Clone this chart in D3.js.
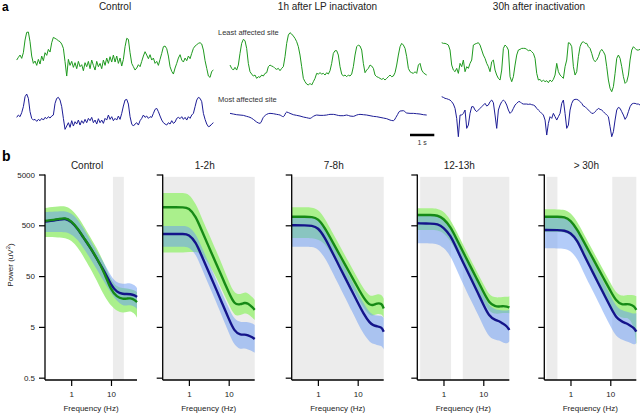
<!DOCTYPE html>
<html><head><meta charset="utf-8">
<script src="https://cdn.jsdelivr.net/npm/d3@7"></script>
<style>body{margin:0;background:#fff}svg{display:block;font-family:"Liberation Sans",Arial,Helvetica,sans-serif}</style>
</head><body>
<svg id="c" width="640" height="413"></svg>
<script>
// ---------------- DATA: panel a (traces, amplitude a.u., uniform sampling) ----------------
const traceTitles = ["Control", "1h after LP inactivaton", "30h after inactivation"];
const siteLabels = ["Least affected site", "Most affected site"];
const fineStepMs = 68.6, coarseStepMs = 137.2;
const ctrlLeast = [20,28,35,25,42,80,103,104,75,32,10,17,4,22,8,32,18,42,34,52,44,72,88,85,82,78,75,68,55,15,-28,22,4,16,-2,12,-6,16,0,6,-12,12,0,16,-6,20,4,-10,16,0,10,-6,20,4,26,10,30,14,35,14,32,10,26,2,22,60,85,82,42,10,0,-10,-4,6,0,16,32,45,35,24,36,20,26,10,16,4,22,40,60,62,54,32,0,-14,-22,-4,10,26,36,20,14,26,18,32,24,40,55,62,66,70,72,68,50,18,-5,-28,-32,-14,-10];
const ctrlMost = [-2,5,0,12,30,60,68,55,15,-5,-10,-8,-14,-8,-12,-5,-10,-2,-6,0,-4,2,5,40,55,58,50,30,-5,-38,-28,-18,-32,-12,-28,-15,-22,-10,-25,-12,-20,-8,-18,-5,-12,-2,-18,-10,-22,-6,-18,-10,-20,-5,-10,5,-8,0,-12,-5,-10,2,-8,10,32,50,52,38,0,-22,-28,-22,-18,-25,-12,-5,5,-2,2,-5,0,-2,10,22,25,15,2,-10,-18,-22,-25,-18,-22,-12,-20,-16,-5,-2,-6,0,-8,-2,-10,0,-5,5,10,30,50,58,55,45,10,-8,-22,-30,-28,-22,-18];
const h1Least = [5,-5,-10,-2,-10,5,40,70,82,78,55,10,-15,-22,-28,-25,-35,-30,-32,-25,-28,-20,-18,0,5,2,0,-5,-8,-5,-12,-5,0,30,70,95,102,98,92,85,75,60,35,0,-35,-45,-52,-55,-50,-55,-45,-35,-20,-22,-18,-22,-20,-25,-18,-22,-12,10,40,48,48,35,0,-22,-28,-25,-30,-25,-28,-22,0,35,60,65,62,50,10,-18,-10,-5,5,2,-5,-25,-30,-32,-35,-38,-35,-40,-35,-30,-25,-30,-28,-18,5,35,60,70,65,55,30,-5,-15,-18,-20,-15,-20,5,10,-10,-18,-22,-25];
const h1Most = [10,8,6,5,4,1,-2,-8,-16,-20,-2,7,10,9,7,5,0,14,10,6,4,2,-1,-3,-5,1,5,4,4,5,7,7,5,3,3,5,2,1,5,7,6,5,3,1,0,-2,-4,-6,-10,-12,2,17,18,11,10,10,9,8,6,5];
const h30Least = [72,70,70,68,65,50,5,-10,-15,-5,-20,10,0,20,-15,0,-5,10,20,65,68,70,72,65,50,35,25,10,0,-15,15,20,-10,-25,-35,-40,-10,55,65,60,50,-30,-45,-30,5,35,50,52,55,55,55,52,48,50,45,40,25,-20,-40,-38,-45,-40,-45,-42,-48,-40,-45,-38,-25,10,-15,-25,-30,-35,0,20,72,70,60,0,-25,-15,30,60,72,75,70,70,60,55,40,22,15,20,30,45,52,45,35,0,-40,-65,-75,-60,-20,25,35,25,0,-30,-50,-45,-25,20,50,60,55,50,50,52];
const h30Most = [60,58,55,54,52,50,45,38,25,-5,-60,5,5,10,20,-35,-25,10,30,30,20,15,20,25,30,35,40,32,35,45,50,42,5,-35,20,35,45,50,45,35,20,10,15,25,35,40,45,45,40,38,38,38,37,38,36,35,32,25,20,15,10,5,-10,-55,-20,0,-5,10,0,-10,0,10,40,50,10,-35,-25,20,40,50,52,52,50,45,40,32,30,25,20,15,10,10,15,20,25,22,20,15,10,5,0,-30,-60,-45,-10,20,28,25,15,5,-8,0,15,30,38,40,40,38,38,35];

// ---------------- DATA: panel b (power spectra, uV^2) ----------------
const panelTitles = ["Control", "1-2h", "7-8h", "12-13h", "> 30h"];
const freqs = [0.22,0.5,0.7,1,1.5,2,3,5,7,10,14,20,25,30,40,45];
const yTickValues = [0.5,5,50,500,5000];
const yTickLabels = ["0.5","5","50","500","5000"];
const xTickValues = [1,10];
const xTickLabels = ["1","10"];

const ctrlGreenMean = [607,665,706,615,423,294,187,94.6,55,26.6,19.4,17.7,18,18.5,17,15.4];
const ctrlGreenHi   = [1100,1180,1200,1050,728,507,294,149,82.7,41.9,30.5,29,28.5,27.7,26,24];
const ctrlGreenLo   = [294,290,281,257,179,124,72,33.4,19.4,12.9,10.3,9.4,9.8,10.3,9,7.6];
const ctrlBlueMean  = [590,645,685,600,415,290,185,92,60,33.4,24,22.2,22.2,22.2,21,19.4];
const ctrlBlueHi    = [914,940,950,873,636,446,257,130,86,48.9,36.6,35,36,36.6,33,29];
const ctrlBlueLo    = [369,369,369,336,257,179,113,57.6,36.6,23,16.2,12.9,13.2,13.5,12.5,11.3];

const h12GreenMean = [1130,1130,1130,1120,738,429,208,83,45.5,24,13.5,13.9,15,14.7,12,10.8];
const h12GreenHi   = [2150,2170,2170,2100,1330,770,370,150,80,40,22,22,24,23.5,19,17];
const h12GreenLo   = [145,145,145,150,150,140,95,45,25,14,8,8.5,9.3,9.2,7.5,6.8];
const h12BlueMean  = [337,337,337,335,230,136,66,26,14,7.3,4.0,3.46,3.55,3.46,3.1,2.88];
const h12BlueHi    = [484,484,484,480,340,200,100,40,22,12,6.8,6.2,6.3,6.2,5.8,5.45];
const h12BlueLo    = [190,190,190,190,135,78,37,14.5,7.6,3.9,2.1,1.8,1.9,1.8,1.65,1.55];

const h78GreenMean = [738,738,730,687,443,294,165,79.8,49.8,30,18.7,13.2,13.5,14.5,14.7,11.5];
const h78GreenHi   = [1130,1130,1120,1050,680,450,250,120,75,45,28,20,20.5,22,22,18];
const h78GreenLo   = [281,281,280,265,220,150,103,50,31,19,11.7,8.3,8.4,9,9,7.5];
const h78BlueMean  = [500,500,490,457,285,183,97,44,26.3,15.2,9.06,5.97,5.33,5.14,4.98,4.02];
const h78BlueHi    = [720,720,710,670,430,280,150,70,42,24,14.5,9.5,8.6,8.3,8.3,7.5];
const h78BlueLo    = [190,190,188,175,115,75,40,18,10.5,6,3.6,2.5,2.3,2.2,2.15,1.8];

const h1213GreenMean = [798,798,785,687,462,297,158,71.6,42.9,24.7,14.8,12.6,12.5,12.9,12.6,12];
const h1213GreenHi   = [1080,1080,1060,960,640,420,220,100,60,35,21,19,19,19.5,19.5,20];
const h1213GreenLo   = [404,404,400,360,250,165,92,44,27,16,9.8,9,9.2,9.5,9.3,9.3];
const h1213BlueMean  = [547,540,531,457,313,195,97.7,43.3,25,13.9,8.05,6.84,6.5,5.9,5.1,4.34];
const h1213BlueHi    = [790,780,760,670,450,290,150,68,40,22,13,11,10.8,10.5,10.5,10.8];
const h1213BlueLo    = [221,220,215,185,125,75,37,16,9.5,5.2,3.1,2.8,2.7,2.5,2.3,2.6];

const h30GreenMean = [738,738,730,636,404,266,148,70.5,43.4,26,16,13.5,14.1,14,12.9,10.8];
const h30GreenHi   = [1030,1030,1020,900,580,380,210,100,62,37,23,20,21,21.5,21,20];
const h30GreenLo   = [370,370,365,330,220,145,78,36,22,13,8.5,7.5,7.5,7.3,5,2.2];
const h30BlueMean  = [404,404,395,361,250,150,80,36.2,21.6,12.5,7.5,6.3,5.9,5.45,4.76,4.02];
const h30BlueHi    = [700,700,690,620,420,260,135,62,37,21,12.5,10.5,10,9.7,9,9.3];
const h30BlueLo    = [176,176,172,160,110,65,34,15.5,9,5.2,3.2,2.8,2.6,2.5,2.2,2.4];

// shaded (grey) frequency ranges per panel, Hz
const shadeCtrl = [[11.2,21]];
const shade12 = [[0.22,45]];
const shade78 = [[0.22,45]];
const shade1213 = [[0.26,1.55],[3.05,45]];
const shade30 = [[0.25,0.47],[11.2,45]];

// ---------------- DRAWING ----------------
const svg = d3.select("#c");
const C = {
  greenTrace:"#1f9a1f", blueTrace:"#1d1d96",
  greenLine:"#168a16", blueLine:"#14148a",
  greenBand:"#aaf08c", blueBand:"rgba(104,154,244,0.5)", grey:"#ececec"
};

// panel a
svg.append("text").attr("x",2).attr("y",11).attr("font-size",12).attr("font-weight","bold").text("a");
const traceX0 = [16.7, 230, 441.7];
const pxPerSec = 24.3;
const titleCx = [115, 327.5, 539];
const rows = [
  {data:[ctrlLeast,h1Least,h30Least], step:[fineStepMs,fineStepMs,fineStepMs], color:C.greenTrace, cy:66.7},
  {data:[ctrlMost,h1Most,h30Most], step:[fineStepMs,coarseStepMs,fineStepMs], color:C.blueTrace, cy:116.7}
];
traceTitles.forEach((t,i)=>{
  svg.append("text").attr("x",titleCx[i]).attr("y",10).attr("text-anchor","middle").attr("font-size",10).attr("fill","#222").text(t);
});
rows.forEach(row=>{
  const ys = d3.scaleLinear().domain([-150,150]).range([row.cy+50,row.cy-50]);
  row.data.forEach((arr,i)=>{
    const dur = (arr.length-1)*row.step[i]/1000;
    const xs = d3.scaleLinear().domain([0,dur]).range([traceX0[i], traceX0[i]+dur*pxPerSec]);
    const line = d3.line().x((d,k)=>xs(k*row.step[i]/1000)).y(d=>ys(d)).curve(row.step[i]>100?d3.curveMonotoneX:d3.curveLinear);
    svg.append("path").attr("d",line(arr)).attr("fill","none").attr("stroke",row.color).attr("stroke-width",1).attr("stroke-linejoin","round");
  });
});
svg.append("text").attr("x",218).attr("y",34.5).attr("font-size",7.5).attr("fill","#333").text(siteLabels[0]);
svg.append("text").attr("x",218).attr("y",101.5).attr("font-size",7.5).attr("fill","#333").text(siteLabels[1]);
// scale bar 1 s
{
  const xs1 = d3.scaleLinear().domain([0,1]).range([410, 410+pxPerSec]);
  svg.append("line").attr("x1",xs1(0)).attr("x2",xs1(1)).attr("y1",135).attr("y2",135).attr("stroke","#000").attr("stroke-width",2.5);
  svg.append("text").attr("x",(xs1(0)+xs1(1))/2).attr("y",144.5).attr("text-anchor","middle").attr("font-size",7).attr("fill","#333").text("1 s");
}

// panel b
svg.append("text").attr("x",2).attr("y",160.5).attr("font-size",14).attr("font-weight","bold").text("b");
const panels = [
  {ax:45, g:[ctrlGreenMean,ctrlGreenLo,ctrlGreenHi], b:[ctrlBlueMean,ctrlBlueLo,ctrlBlueHi], shade:shadeCtrl},
  {ax:162.7, g:[h12GreenMean,h12GreenLo,h12GreenHi], b:[h12BlueMean,h12BlueLo,h12BlueHi], shade:shade12},
  {ax:291.7, g:[h78GreenMean,h78GreenLo,h78GreenHi], b:[h78BlueMean,h78BlueLo,h78BlueHi], shade:shade78},
  {ax:417.3, g:[h1213GreenMean,h1213GreenLo,h1213GreenHi], b:[h1213BlueMean,h1213BlueLo,h1213BlueHi], shade:shade1213},
  {ax:544.3, g:[h30GreenMean,h30GreenLo,h30GreenHi], b:[h30BlueMean,h30BlueLo,h30BlueHi], shade:shade30}
];
const pw = 92;
const y = d3.scaleLog().domain([0.45,5000]).range([380,174.5]);
panels.forEach((p,pi)=>{
  const x = d3.scaleLog().domain([0.22,45]).range([p.ax, p.ax+pw]);
  const g = svg.append("g");
  p.shade.forEach(r=>{
    g.append("rect").attr("x",x(r[0])).attr("width",x(r[1])-x(r[0])).attr("y",y(4500)).attr("height",y(0.45)-y(4500)).attr("fill",C.grey);
  });
  const area = (lo,hi)=>d3.area().x((d,i)=>x(freqs[i])).y0((d,i)=>y(lo[i])).y1((d,i)=>y(hi[i])).curve(d3.curveBasis)(freqs);
  const line = arr=>d3.line().x((d,i)=>x(freqs[i])).y(d=>y(d)).curve(d3.curveBasis)(arr);
  g.append("path").attr("d",area(p.g[1],p.g[2])).attr("fill",C.greenBand);
  g.append("path").attr("d",area(p.b[1],p.b[2])).attr("fill",C.blueBand);
  g.append("path").attr("d",line(p.b[0])).attr("fill","none").attr("stroke",C.blueLine).attr("stroke-width",2.4);
  g.append("path").attr("d",line(p.g[0])).attr("fill","none").attr("stroke",C.greenLine).attr("stroke-width",2.4);

  // axes
  const yAx = d3.axisLeft(y).tickValues(yTickValues).tickSize(6).tickPadding(4)
    .tickFormat(pi===0 ? ((d,i)=>yTickLabels[i]) : ()=> "");
  const ya = g.append("g").attr("transform",`translate(${p.ax},0)`).call(yAx);
  ya.select(".domain").attr("d",`M0,${y(5000)}V380`).attr("stroke-width",1.3);
  const xAx = d3.axisBottom(x).tickValues(xTickValues).tickSize(6).tickPadding(5).tickFormat((d,i)=>xTickLabels[i]);
  const xa = g.append("g").attr("transform","translate(0,380)").call(xAx);
  xa.select(".domain").attr("d",`M${p.ax},0H${p.ax+pw}`).attr("stroke-width",1.3);
  [ya,xa].forEach(a=>{
    a.selectAll(".tick line").attr("stroke-width",1.2);
    a.selectAll("text").attr("font-size",8).attr("fill","#222").attr("font-family","Liberation Sans, Arial, sans-serif");
  });
  g.append("text").attr("x",p.ax+pw/2).attr("y",410.5).attr("text-anchor","middle").attr("font-size",8).attr("fill","#222").text("Frequency (Hz)");
  g.append("text").attr("x",p.ax+pw/2-4).attr("y",168.5).attr("text-anchor","middle").attr("font-size",10).attr("fill","#222").text(panelTitles[pi]);
});
// y-axis label
{
  const t = svg.append("text").attr("transform","translate(13,265) rotate(-90)").attr("text-anchor","middle").attr("font-size",8).attr("fill","#222");
  t.append("tspan").text("Power (uV");
  t.append("tspan").attr("dy",-3).attr("font-size",6).text("2");
  t.append("tspan").attr("dy",3).text(")");
}
</script>
</body></html>
